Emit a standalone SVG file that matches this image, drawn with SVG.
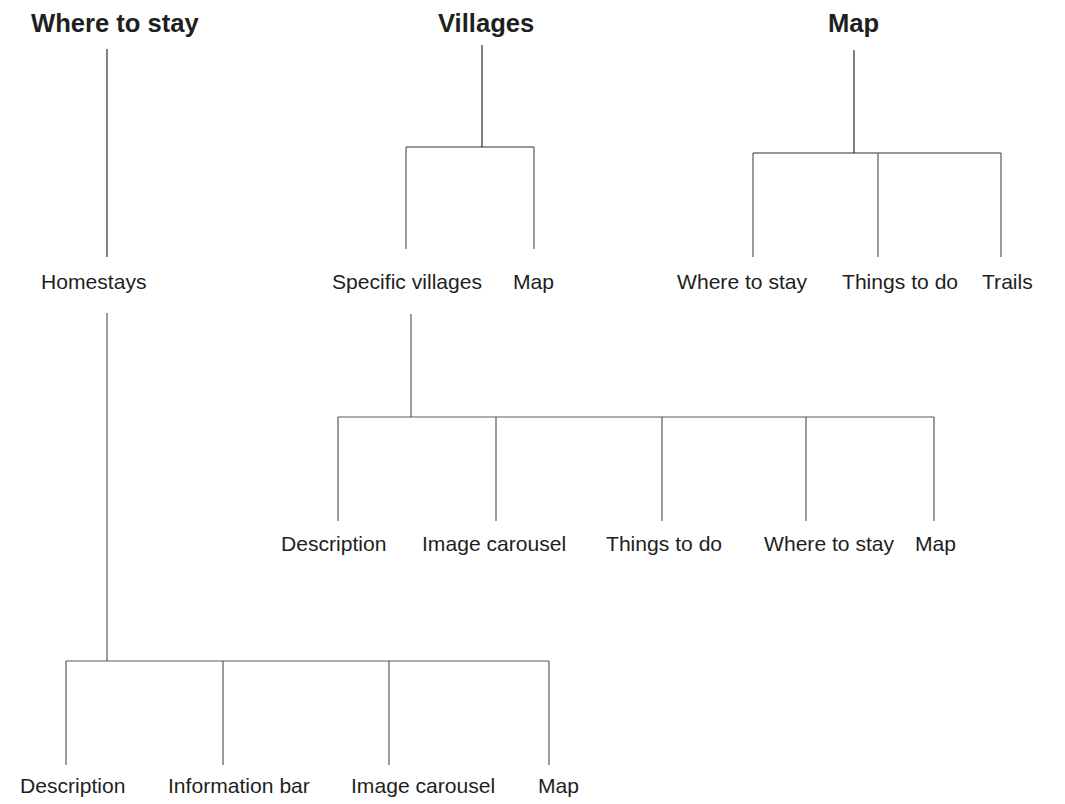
<svg xmlns="http://www.w3.org/2000/svg" width="1065" height="804" viewBox="0 0 1065 804">
  <style>
    .title { font-family: "Liberation Sans", Arial, sans-serif; font-weight: bold; font-size: 25.6px; fill: #1d1f21; }
    .label { font-family: "Liberation Sans", Arial, sans-serif; font-size: 21.1px; fill: #1d1f21; }
    .link { stroke: #5a5a5a; stroke-width: 1.2; fill: none; }
    .stem { stroke: #2e2e2e; }
  </style>
  <rect width="1065" height="804" fill="#ffffff"/>

  <!-- tree connectors -->
  <g id="connectors">
    <!-- Where to stay branch -->
    <path class="link stem" d="M107,49 V257"/>
    <path class="link" d="M107,313 V661"/>
    <path class="link" d="M66,661 H549 M66,661 V765 M223,661 V765 M389,661 V765 M549,661 V765"/>
    <!-- Villages branch -->
    <path class="link stem" d="M482,45 V147 M406,147 H534"/>
    <path class="link" d="M406,147 V249 M534,147 V249"/>
    <path class="link" d="M411,314 V417 M338,417 H934 M338,417 V521 M496,417 V521 M662,417 V521 M806,417 V521 M934,417 V521"/>
    <!-- Map branch -->
    <path class="link stem" d="M854,50 V153 M753,153 H1001"/>
    <path class="link" d="M753,153 V257 M878,153 V257 M1001,153 V257"/>
  </g>

  <!-- section headings -->
  <g id="where-to-stay"><text class="title" x="31" y="32">Where to stay</text></g>
  <g id="villages"><text class="title" x="438" y="32">Villages</text></g>
  <g id="map"><text class="title" x="828" y="32">Map</text></g>

  <!-- second level -->
  <g id="homestays"><text class="label" x="41" y="289">Homestays</text></g>
  <g id="specific-villages"><text class="label" x="332" y="289">Specific villages</text></g>
  <g id="villages-map"><text class="label" x="513" y="289">Map</text></g>
  <g id="map-where-to-stay"><text class="label" x="677" y="289">Where to stay</text></g>
  <g id="map-things-to-do"><text class="label" x="842" y="289">Things to do</text></g>
  <g id="map-trails"><text class="label" x="982" y="289">Trails</text></g>

  <!-- specific village pages -->
  <g id="village-description"><text class="label" x="281" y="551">Description</text></g>
  <g id="village-image-carousel"><text class="label" x="422" y="551">Image carousel</text></g>
  <g id="village-things-to-do"><text class="label" x="606" y="551">Things to do</text></g>
  <g id="village-where-to-stay"><text class="label" x="764" y="551">Where to stay</text></g>
  <g id="village-map"><text class="label" x="915" y="551">Map</text></g>

  <!-- homestay pages -->
  <g id="homestay-description"><text class="label" x="20" y="793">Description</text></g>
  <g id="homestay-information-bar"><text class="label" x="168" y="793">Information bar</text></g>
  <g id="homestay-image-carousel"><text class="label" x="351" y="793">Image carousel</text></g>
  <g id="homestay-map"><text class="label" x="538" y="793">Map</text></g>
</svg>
